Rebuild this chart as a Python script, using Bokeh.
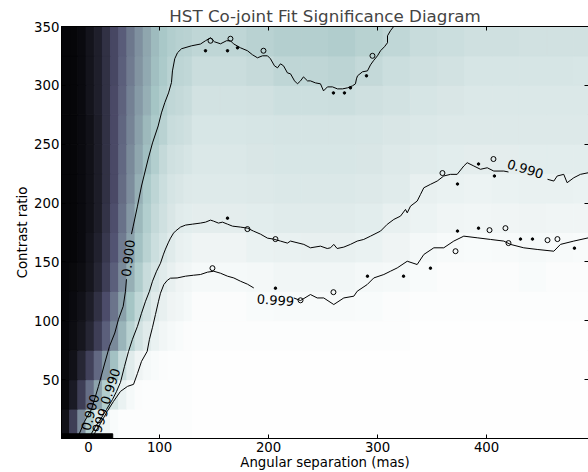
import math
from bokeh.plotting import figure
from bokeh.models import Range1d, LinearAxis, LinearColorMapper, FixedTicker, ColumnDataSource
from bokeh.core.properties import value
from bokeh.embed import file_html
from bokeh.resources import INLINE

# ---------------- data ----------------
# column edges (mas): fine near the left edge, coarser further out
col_edges = [10, 17.5, 25, 32.5, 40, 47.5, 55, 62.5, 70, 77.5, 85, 92.5, 100, 107.5, 115, 122.5, 130,
             155, 180, 205, 230, 255, 280, 305, 330, 355, 380, 405, 430, 455, 480, 505]
# row edges (contrast ratio)
row_edges = [0, 25, 50, 75, 100, 125, 150, 175, 200, 225, 250, 275, 300, 325, 350]

# significance (colour level) per cell, bottom row first
sig_rows = [
    [.08, .28, .55, .77, .90, .95, .98, .99, .99, .99, .99, .99, .99, .99, .99, .99,
     .995, .995, .995, .995, .995, .995, .995, .995, .995, .995, .995, .995, .995, .995, .995],
    [.04, .12, .28, .46, .63, .78, .88, .94, .97, .985, .99, .99, .99, .99, .99, .99,
     .995, .995, .995, .995, .995, .995, .995, .995, .995, .995, .995, .995, .995, .995, .995],
    [.04, .08, .17, .29, .44, .59, .73, .84, .91, .95, .97, .98, .985, .99, .99, .99,
     .995, .995, .995, .995, .995, .995, .995, .995, .995, .995, .995, .995, .995, .995, .995],
    [.03, .06, .10, .17, .28, .41, .55, .69, .80, .87, .91, .94, .96, .97, .98, .985,
     .99, .99, .99, .99, .99, .99, .99, .99, .995, .995, .995, .995, .995, .995, .995],
    [.03, .05, .08, .13, .22, .34, .48, .62, .74, .82, .87, .91, .93, .95, .96, .97,
     .985, .985, .98, .975, .975, .975, .98, .985, .99, .99, .99, .99, .99, .99, .99],
    [.03, .04, .06, .10, .17, .28, .41, .55, .67, .77, .84, .88, .91, .93, .95, .96,
     .97, .97, .965, .96, .96, .96, .965, .97, .98, .985, .985, .985, .98, .985, .985],
    [.03, .03, .05, .09, .15, .25, .37, .50, .62, .73, .80, .85, .88, .91, .93, .94,
     .95, .95, .94, .935, .93, .93, .94, .95, .965, .975, .98, .975, .97, .975, .98],
    [.03, .03, .05, .08, .13, .23, .35, .47, .59, .70, .78, .83, .86, .89, .91, .915,
     .92, .92, .915, .91, .91, .91, .915, .93, .945, .955, .96, .955, .95, .955, .955],
    [.03, .03, .05, .08, .13, .22, .33, .45, .56, .67, .76, .81, .85, .875, .89, .90,
     .905, .905, .90, .895, .895, .895, .90, .91, .93, .94, .945, .94, .935, .935, .94],
    [.03, .03, .05, .08, .13, .22, .33, .44, .55, .64, .72, .78, .83, .86, .87, .88,
     .895, .895, .89, .885, .885, .885, .89, .90, .91, .915, .92, .92, .915, .915, .915],
    [.03, .03, .05, .08, .13, .22, .33, .43, .53, .62, .70, .76, .80, .84, .85, .86,
     .885, .885, .88, .875, .875, .875, .88, .89, .895, .90, .90, .90, .90, .90, .90],
    [.03, .03, .05, .09, .14, .22, .33, .42, .52, .60, .67, .74, .78, .82, .83, .84,
     .87, .87, .865, .855, .855, .85, .86, .87, .88, .89, .895, .895, .895, .895, .895],
    [.03, .03, .05, .09, .14, .22, .32, .41, .50, .58, .65, .72, .76, .80, .81, .82,
     .845, .845, .835, .815, .815, .805, .83, .85, .86, .87, .88, .88, .88, .88, .885],
    [.03, .03, .05, .09, .14, .22, .32, .40, .49, .57, .64, .71, .75, .78, .79, .80,
     .815, .815, .80, .785, .785, .775, .795, .82, .84, .85, .86, .86, .865, .865, .865],
]

# contour 0.900 (two pieces around its label)
c900a_x = [25.3, 31.1, 37.5, 43.9, 49.7, 54.0, 58.9, 62.3, 66.6, 68.7, 69.6]
c900a_y = [1.7, 14.5, 24.7, 44.3, 64.1, 78.3, 89.6, 101.3, 112.3, 125.1, 135.3]
c900b_x = [74.2, 75.8, 79.7, 83.4, 89.5, 93.5, 98.7, 101.7, 104.8, 108.2, 110.9, 111.8, 113.9, 116.4,
           120.1, 129.3, 137.5, 142.1, 146.7, 150.4, 155.9, 161.4, 165.0, 167.8, 174.2, 180.6, 185.2,
           189.8, 194.4, 199.0, 201.7, 205.4, 208.2, 210.9, 213.7, 217.3, 220.1, 223.8, 226.5, 229.3,
           232.0, 235.7, 238.4, 243.0, 247.6, 250.4, 254.0, 258.6, 263.2, 267.8, 272.4, 277.0, 279.7,
           280.6, 281.6, 286.1, 290.7, 293.5, 296.2, 299.9, 302.7, 306.3, 309.1, 309.1, 311.8, 314.6, 316.4]
c900b_y = [173.6, 180.4, 197.4, 214.5, 237.4, 251.1, 265.5, 276.6, 285.4, 293.6, 302.4, 312.3, 322.6, 327.7,
           331.1, 333.6, 335.1, 337.9, 340.4, 337.0, 335.3, 337.9, 337.9, 335.3, 331.9, 329.4, 326.0,
           323.4, 325.1, 325.1, 322.6, 316.6, 314.9, 318.3, 316.6, 310.6, 309.8, 303.8, 301.3, 303.8,
           307.2, 303.8, 303.8, 302.1, 301.3, 295.3, 298.7, 298.7, 297.0, 297.0, 297.9, 299.6, 301.3,
           305.5, 308.1, 311.5, 312.3, 317.4, 320.9, 325.1, 329.4, 332.8, 336.2, 342.1, 346.4, 349.8, 354.9]

# contour 0.990
c990a_x = [34.8, 41.2, 45.8, 51.3, 56.8, 60.5, 64.1, 67.8, 71.5, 75.1, 79.7, 83.4, 87.1, 90.7, 93.5, 97.2,
           100.8, 103.6, 105.4, 108.2, 110.0, 112.8, 114.6, 119.2, 123.8, 130.2, 137.5, 142.1, 146.7,
           149.4, 154.0, 157.7, 162.3, 166.9, 174.2, 180.6, 186.1, 192.6, 199.0, 204.5, 210.9, 217.3,
           220.1, 232.3, 238.4, 247.6, 253.8, 256.8, 259.8, 262.9, 269.0, 275.1, 281.3, 287.3, 293.5,
           302.7, 308.8, 314.9, 321.0, 325.6, 327.2, 330.2, 336.3, 339.4, 342.4, 348.5, 354.7, 360.7,
           366.9, 373.0, 379.1, 382.2, 388.3, 394.4, 400.6, 406.6, 415.8, 420.1]
c990a_y = [0.0, 10.2, 16.2, 24.7, 33.2, 40.0, 47.7, 61.3, 74.0, 84.3, 95.3, 106.4, 116.6, 125.1, 133.6, 142.1,
           148.9, 156.6, 160.9, 166.8, 170.2, 174.5, 176.2, 179.6, 181.3, 182.1, 183.0, 183.8, 185.5,
           184.7, 183.0, 183.8, 182.1, 180.4, 179.6, 178.7, 176.2, 173.6, 170.2, 169.4, 167.7, 166.0,
           167.7, 164.9, 162.0, 163.4, 161.4, 162.0, 164.9, 161.4, 162.6, 164.9, 167.7, 169.1, 171.9,
           176.2, 181.9, 186.1, 188.9, 194.6, 191.7, 197.4, 201.7, 207.4, 213.0, 215.9, 218.7, 223.0,
           224.4, 224.4, 231.5, 234.3, 231.5, 228.7, 230.0, 227.2, 227.2, 226.4]
c990b_x = [455.9, 461.7, 464.8, 470.8, 473.9, 480.0, 486.1, 493.5, 499.9]
c990b_y = [220.2, 218.7, 223.0, 224.4, 217.3, 221.5, 224.4, 225.8, 227.2]

# contour 0.999
c999a_x = [38.4, 41.2, 45.8, 51.9, 57.7, 64.1, 70.6, 76.1, 79.7, 83.4, 88.6, 90.7, 93.5, 96.2, 99.0, 100.8,
           103.9, 107.2, 110.0, 116.1, 123.8, 131.1, 137.5, 143.9, 149.7, 155.9, 162.3, 168.1, 174.2,
           180.6, 186.4]
c999a_y = [0.0, 6.0, 12.8, 23.0, 31.5, 40.0, 44.3, 46.0, 55.3, 65.5, 74.0, 84.3, 94.5, 105.3, 116.6, 123.4,
           130.8, 134.5, 136.2, 136.4, 137.9, 138.7, 139.3, 141.3, 142.1, 140.4, 137.9, 136.4, 133.6,
           131.1, 127.9]
c999b_x = [223.1, 229.3, 238.4, 244.6, 250.6, 259.8, 269.0, 278.2, 281.3, 290.5, 296.5, 305.7, 311.8, 318.0,
           327.2, 336.3, 342.4, 351.6, 360.7, 369.9, 379.1, 391.4, 403.6, 415.8, 421.9, 434.1, 446.4,
           461.7, 467.8, 480.0, 493.5, 499.9]
c999b_y = [119.4, 117.2, 122.3, 119.4, 119.4, 113.8, 119.4, 120.9, 125.1, 130.8, 136.4, 139.3, 142.1, 144.9,
           150.6, 147.8, 156.3, 162.0, 162.0, 167.7, 171.9, 170.5, 169.1, 167.7, 164.9, 162.0, 160.6,
           159.1, 164.9, 167.7, 170.5, 171.9]

# small closed contour islands and specks
loop_x = [146.7, 165.0, 195.3, 295.3, 180.6, 206.3, 359.5, 406.3, 148.5, 402.7, 417.3, 420.1, 455.9, 465.0,
          371.5, 259.5, 229.3]
loop_y = [337.9, 339.6, 329.4, 325.1, 177.9, 169.4, 225.5, 237.4, 144.7, 177.0, 178.7, 166.0, 168.5, 169.4,
          159.1, 124.3, 117.4]
dot_x = [142.1, 162.3, 171.5, 289.8, 259.5, 269.6, 275.1, 162.3, 373.3, 392.6, 407.2, 206.3, 373.3, 392.6,
         431.1, 442.1, 480.6, 348.5, 323.8, 290.7]
dot_y = [329.4, 329.4, 331.9, 308.1, 293.6, 293.6, 297.9, 187.2, 216.2, 233.2, 223.0, 127.7, 176.2, 178.7,
         169.4, 169.4, 161.7, 144.7, 137.9, 137.9]

# contour labels
lab_text = ["0.900", "0.990", "0.999", "0.900", "0.990", "0.999"]
lab_x = [71.2, 435.5, 206.3, 36.6, 55.0, 43.9]
lab_y = [153.2, 228.9, 117.4, 22.1, 44.3, 10.2]
lab_angle = [83, -17, -4, 75, 72, 72]

# collapsed contours along the bottom edge (and the label piece spilling below the axis)
band_x = [10, 57]
band_y = [0, 4]
edge_label_x = 34.8
edge_label_text = "0"

x_ticks = [100, 200, 300, 400]
y_ticks = [50, 100, 150, 200, 250, 300, 350]

# ---------------- bone colormap ----------------
def seg(points, t):
    for (x0, y0), (x1, y1) in zip(points[:-1], points[1:]):
        if t <= x1:
            return y0 + (y1 - y0) * (t - x0) / (x1 - x0)
    return points[-1][1]

R = [(0, 0), (0.746032, 0.652778), (1, 1)]
G = [(0, 0), (0.365079, 0.319444), (0.746032, 0.777778), (1, 1)]
B = [(0, 0), (0.365079, 0.444444), (1, 1)]
bone = []
for k in range(256):
    t = k / 255
    bone.append("#%02x%02x%02x" % (round(255 * seg(R, t)), round(255 * seg(G, t)), round(255 * seg(B, t))))
mapper = LinearColorMapper(palette=bone, low=0.0, high=1.0)

# ---------------- figure ----------------
FONT = "DejaVu Sans"
FS = "13.3px"
p = figure(width=588, height=472, x_range=Range1d(10, 493.5), y_range=Range1d(0, 350),
           output_backend="svg", toolbar_location=None,
           title="HST Co-joint Fit Significance Diagram",
           min_border_left=61, min_border_right=0, min_border_top=26, min_border_bottom=0,
           x_axis_label="Angular separation (mas)", y_axis_label="Contrast ratio")
p.title.text_font = FONT
p.title.text_font_size = "16.7px"
p.title.text_font_style = "normal"
p.title.align = "center"
p.title.standoff = 2
p.grid.visible = False
p.background_fill_color = "white"
p.border_fill_color = "white"
p.outline_line_color = "black"
p.outline_line_width = 1

left, right, bottom, top, sig = [], [], [], [], []
for j, row in enumerate(sig_rows):
    for i, v in enumerate(row):
        left.append(col_edges[i]); right.append(col_edges[i + 1])
        bottom.append(row_edges[j]); top.append(row_edges[j + 1])
        sig.append(v)
src = ColumnDataSource(dict(left=left, right=right, bottom=bottom, top=top, sig=sig))
p.quad(left="left", right="right", bottom="bottom", top="top", source=src,
       fill_color={"field": "sig", "transform": mapper},
       line_color={"field": "sig", "transform": mapper}, line_width=1)

for xs, ys in [(c900a_x, c900a_y), (c900b_x, c900b_y), (c990a_x, c990a_y), (c990b_x, c990b_y),
               (c999a_x, c999a_y), (c999b_x, c999b_y)]:
    p.line(xs, ys, line_color="black", line_width=1)

p.scatter(loop_x, loop_y, marker="circle", size=5, fill_color=None, line_color="black", line_width=1)
p.scatter(dot_x, dot_y, marker="circle", size=2.5, fill_color="black", line_color="black")

p.quad(left=[band_x[0]], right=[band_x[1]], bottom=[band_y[0]], top=[band_y[1]],
       fill_color="black", line_color="black")

lsrc = ColumnDataSource(dict(x=lab_x, y=lab_y, t=lab_text, a=[math.radians(a) for a in lab_angle]))
p.text(x="x", y="y", text="t", angle="a", source=lsrc, text_font=value(FONT), text_font_size="13px",
       text_align="center", text_baseline="middle", text_color="black")

def style_axis(ax, ticks, show_labels):
    ax.ticker = FixedTicker(ticks=ticks)
    ax.minor_tick_line_color = None
    ax.major_tick_in = 4
    ax.major_tick_out = 0
    ax.axis_line_color = "black"
    ax.major_tick_line_color = "black"
    ax.major_label_text_font = FONT
    ax.major_label_text_color = "black"
    ax.major_label_text_font_size = FS
    ax.axis_label_text_font = FONT
    ax.axis_label_text_font_size = FS
    ax.axis_label_text_font_style = "normal"
    ax.axis_label_text_color = "black"
    if not show_labels:
        ax.major_label_overrides = {t: "" for t in ticks}
        ax.major_label_standoff = 0

style_axis(p.xaxis[0], [edge_label_x] + x_ticks, True)
p.xaxis[0].major_label_overrides = {edge_label_x: edge_label_text}
style_axis(p.yaxis[0], y_ticks, True)
p.xaxis[0].major_label_standoff = 3
p.xaxis[0].axis_label_standoff = 0
p.yaxis[0].major_label_standoff = 2
p.yaxis[0].axis_label_standoff = 1

top_ax = LinearAxis()
style_axis(top_ax, x_ticks, False)
p.add_layout(top_ax, "above")
right_ax = LinearAxis()
style_axis(right_ax, y_ticks, False)
p.add_layout(right_ax, "right")

open("out.html", "w").write(file_html(p, INLINE))
